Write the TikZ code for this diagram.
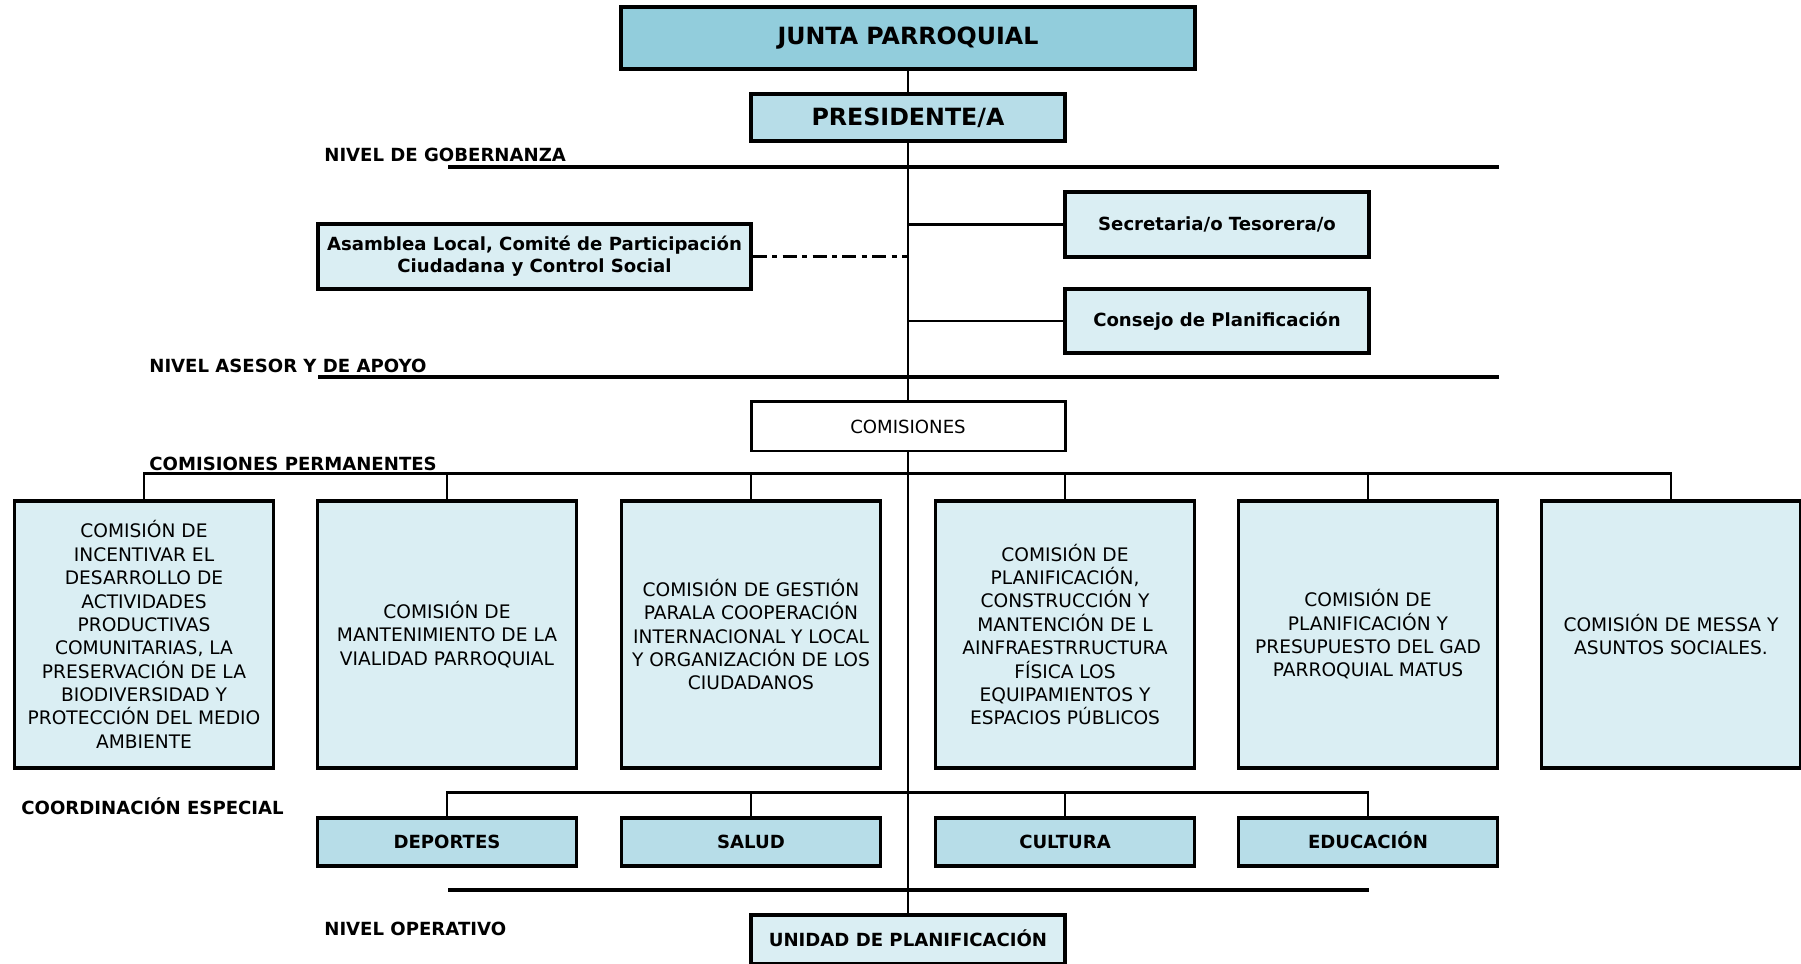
\documentclass[tikz,border=0pt]{standalone}
\usepackage{fontspec}
\setmainfont{DejaVu Sans}
\usepackage{tikz}
\usetikzlibrary{positioning, calc}
\definecolor{myink}{RGB}{0,0,0}
\definecolor{hdraqua}{RGB}{146,205,220}
\definecolor{hdrblue}{RGB}{183,221,232}
\definecolor{hdrpale}{RGB}{218,238,243}
\tikzset{
  topbox/.style={rectangle, draw=myink, fill=hdraqua,
    minimum width=11.48cm, minimum height=1.24cm, inner sep=2pt,
    font=\fontsize{13.5}{16}\selectfont\bfseries, line width=2pt},
  presbox/.style={rectangle, draw=myink, fill=hdrblue,
    minimum width=6.28cm, minimum height=0.94cm, inner sep=2pt,
    font=\fontsize{13.5}{16}\selectfont\bfseries, line width=2pt},
  sidebox/.style={rectangle, draw=myink, fill=hdrpale, align=center,
    minimum width=6.08cm, minimum height=1.3cm, inner sep=2pt,
    font=\fontsize{10.3}{12.4}\selectfont\bfseries, line width=2pt},
  plainbox/.style={rectangle, draw=myink, fill=white,
    minimum width=6.28cm, minimum height=0.98cm, inner sep=2pt,
    font=\fontsize{10.3}{12.4}\selectfont, line width=1.7pt},
  combox/.style={rectangle, draw=myink, fill=hdrpale, align=center,
    minimum width=5.18cm, minimum height=5.34cm, inner sep=2pt,
    font=\fontsize{10.6}{13.3}\selectfont, line width=2pt},
  coordbox/.style={rectangle, draw=myink, fill=hdrblue,
    minimum width=5.18cm, minimum height=0.96cm, inner sep=2pt,
    text height=7.6pt, text depth=0pt,
    font=\fontsize{10.3}{12.4}\selectfont\bfseries, line width=2pt},
  levellabel/.style={anchor=west, inner sep=0pt,
    font=\fontsize{10.3}{12.4}\selectfont\bfseries},
  line/.style={line width=1.6pt, color=myink},
  levelline/.style={line width=1.8pt, color=myink},
  dashline/.style={line width=1.8pt, color=myink,
    dash pattern=on 8pt off 3pt on 3pt off 3pt}
}
\begin{document}
\begin{tikzpicture}
  \useasboundingbox (0,0) rectangle (36.02,19.28);
  % Governing level
  \node[topbox] (junta) at (18.16,18.52) {JUNTA PARROQUIAL};
  \node[presbox] (pres) at (18.16,16.93) {PRESIDENTE/A};
  \node[levellabel] (lgob) at (6.48,16.18) {NIVEL DE GOBERNANZA};
  \draw[levelline] (8.96,15.94) -- (29.98,15.94);
  % Advisory and support level
  \node[sidebox] (secre) at (24.34,14.79) {Secretaria/o Tesorera/o};
  \node[sidebox, minimum width=8.66cm] (asamb) at (10.69,14.15)
    {Asamblea Local, Comité de Participación\\Ciudadana y Control Social};
  \node[sidebox, minimum height=1.28cm] (conse) at (24.34,12.86) {Consejo de Planificación};
  \node[levellabel] (lases) at (2.98,11.96) {NIVEL ASESOR Y DE APOYO};
  \draw[levelline] (6.36,11.74) -- (29.98,11.74);
  % Commissions
  \node[plainbox] (comis) at (18.16,10.75) {COMISIONES};
  \node[levellabel] (lperm) at (2.98,10.0) {COMISIONES PERMANENTES};
  \node[combox] (com1) at (2.88,6.59) {COMISIÓN DE\\INCENTIVAR EL\\DESARROLLO DE\\ACTIVIDADES\\PRODUCTIVAS\\COMUNITARIAS, LA\\PRESERVACIÓN DE LA\\BIODIVERSIDAD Y\\PROTECCIÓN DEL MEDIO\\AMBIENTE};
  \node[combox] (com2) at (8.94,6.59) {COMISIÓN DE\\MANTENIMIENTO DE LA\\VIALIDAD PARROQUIAL};
  \node[combox] (com3) at (15.02,6.59) {COMISIÓN DE GESTIÓN\\PARALA COOPERACIÓN\\INTERNACIONAL Y LOCAL\\Y ORGANIZACIÓN DE LOS\\CIUDADANOS};
  \node[combox] (com4) at (21.30,6.59) {COMISIÓN DE\\PLANIFICACIÓN,\\CONSTRUCCIÓN Y\\MANTENCIÓN DE L\\AINFRAESTRRUCTURA\\FÍSICA LOS\\EQUIPAMIENTOS Y\\ESPACIOS PÚBLICOS};
  \node[combox] (com5) at (27.36,6.59) {COMISIÓN DE\\PLANIFICACIÓN Y\\PRESUPUESTO DEL GAD\\PARROQUIAL MATUS};
  \node[combox] (com6) at (33.42,6.59) {COMISIÓN DE MESSA Y\\ASUNTOS SOCIALES.};
  % Special coordination
  \node[levellabel] (lcoor) at (0.42,3.16) {COORDINACIÓN ESPECIAL};
  \node[coordbox] (depor) at (8.94,2.44) {DEPORTES};
  \node[coordbox] (salud) at (15.02,2.44) {SALUD};
  \node[coordbox] (cultu) at (21.30,2.44) {CULTURA};
  \node[coordbox] (educa) at (27.36,2.44) {EDUCACIÓN};
  \draw[levelline] (8.96,1.48) -- (27.38,1.48);
  % Operative level
  \node[levellabel] (loper) at (6.48,0.70) {NIVEL OPERATIVO};
  \node[sidebox, minimum width=6.28cm, minimum height=0.98cm,
    text height=7.6pt, text depth=0pt] (unidad) at (18.16,0.49) {UNIDAD DE PLANIFICACIÓN};
  % Main axis
  \draw[line] (junta) -- (pres);
  \draw[line] (pres) -- (comis);
  \draw[line] (comis) -- (unidad);
  % Side branches
  \draw[line] (secre.west) -- (secre.west -| pres.south);
  \draw[line] (conse.west) -- (conse.west -| pres.south);
  \draw[dashline] (asamb.east) -- (asamb.east -| pres.south);
  % Commission bus
  \draw[line] (com1.north) -- ++(0,0.52) -| (com6.north);
  \foreach \c in {com2,com3,com4,com5}
    \draw[line] (\c.north) -- ++(0,0.52);
  % Coordination bus
  \draw[line] (depor.north) -- ++(0,0.48) -| (educa.north);
  \foreach \c in {salud,cultu}
    \draw[line] (\c.north) -- ++(0,0.48);
\end{tikzpicture}
\end{document}
